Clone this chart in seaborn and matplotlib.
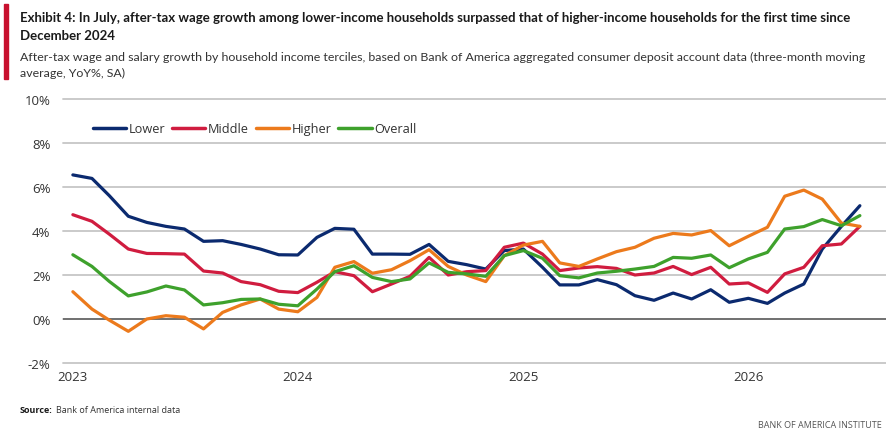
import matplotlib
matplotlib.use("Agg")
import matplotlib.pyplot as plt
import matplotlib.patches as mpatches
import matplotlib.ticker as mticker
import numpy as np
import pandas as pd
import seaborn as sns

# ---------------- data ----------------
months = pd.date_range("2023-01-01", "2026-07-01", freq="MS")

lower = [6.55, 6.39, 5.61, 4.67, 4.39, 4.21, 4.09, 3.53, 3.56, 3.39,
         3.18, 2.92, 2.91, 3.71, 4.12, 4.08, 2.95, 2.95, 2.94, 3.39,
         2.62, 2.47, 2.27, 3.11, 3.18, 2.35, 1.55, 1.55, 1.79, 1.56,
         1.06, 0.85, 1.18, 0.91, 1.33, 0.76, 0.94, 0.71, 1.18, 1.59,
         3.18, 4.21, 5.15]
middle = [4.74, 4.44, 3.86, 3.18, 2.98, 2.97, 2.95, 2.18, 2.09, 1.70,
          1.56, 1.26, 1.20, 1.67, 2.15, 1.97, 1.24, 1.59, 1.94, 2.80,
          2.00, 2.15, 2.20, 3.26, 3.45, 2.95, 2.20, 2.32, 2.38, 2.30,
          2.00, 2.09, 2.39, 2.02, 2.35, 1.59, 1.64, 1.21, 2.05, 2.35,
          3.33, 3.41, 4.21]
higher = [1.24, 0.45, -0.05, -0.56, 0.00, 0.15, 0.08, -0.45, 0.30, 0.64,
          0.91, 0.45, 0.33, 0.98, 2.35, 2.61, 2.08, 2.24, 2.65, 3.15,
          2.39, 2.00, 1.70, 2.88, 3.36, 3.53, 2.55, 2.39, 2.73, 3.06,
          3.26, 3.67, 3.89, 3.82, 4.02, 3.33, 3.76, 4.17, 5.58, 5.86,
          5.45, 4.36, 4.21]
overall = [2.92, 2.39, 1.71, 1.05, 1.23, 1.50, 1.32, 0.64, 0.74, 0.89,
           0.91, 0.67, 0.60, 1.36, 2.15, 2.42, 1.89, 1.70, 1.82, 2.55,
           2.12, 2.05, 1.94, 2.88, 3.11, 2.76, 1.97, 1.87, 2.09, 2.17,
           2.27, 2.39, 2.80, 2.76, 2.91, 2.33, 2.73, 3.03, 4.09, 4.20,
           4.52, 4.24, 4.70]

series_names = ["Lower", "Middle", "Higher", "Overall"]
series_values = [lower, middle, higher, overall]
colors = ["#0b2a6f", "#d01c3f", "#ec7a1c", "#3ea12c"]

y_ticks = [-2, 0, 2, 4, 6, 8, 10]
x_tick_labels = ["2023", "2024", "2025", "2026"]

title_lines = ["Exhibit 4: In July, after-tax wage growth among lower-income households surpassed that of higher-income households for the first time since",
               "December 2024"]
subtitle_lines = ["After-tax wage and salary growth by household income terciles, based on Bank of America aggregated consumer deposit account data (three-month moving",
                  "average, YoY%, SA)"]

# ---------------- build frame ----------------
df = pd.concat([pd.DataFrame({"date": months, "value": v, "series": n})
                for n, v in zip(series_names, series_values)], ignore_index=True)

sns.set_theme(style="white")
plt.rcParams["font.family"] = ["Open Sans", "DejaVu Sans"]

W, H = 887, 439
fig = plt.figure(figsize=(W / 100, H / 100), dpi=100)
ax = fig.add_axes([63 / W, 1 - 364 / H, (W - 63) / W, (364 - 100) / H])

sns.lineplot(data=df, x="date", y="value", hue="series", hue_order=series_names,
             palette=colors, linewidth=2.3, ax=ax, legend=True)

ax.set_ylim(-2, 10)
ax.set_yticks(y_ticks)
ax.yaxis.set_major_formatter(mticker.FuncFormatter(lambda v, p: f"{v:.0f}%"))
ax.set_xlim(pd.Timestamp("2022-12-16"), pd.Timestamp("2026-08-14"))
ax.set_xticks([pd.Timestamp(f"{y}-01-01") for y in x_tick_labels])
ax.set_xticklabels(x_tick_labels)

ax.grid(axis="y", color="#c6c6c6", linewidth=1.3, zorder=0)
for g in ax.get_ygridlines():
    g.set_clip_on(False)
ax.axhline(0, color="#6a6a6a", linewidth=1.3, zorder=1)
for s in ax.spines.values():
    s.set_visible(False)
ax.tick_params(axis="both", length=0, labelsize=9.5, colors="#333333")
ax.tick_params(axis="y", pad=9)
ax.tick_params(axis="x", pad=5)
ax.set_xlabel("")
ax.set_ylabel("")

handles, labels = ax.get_legend_handles_labels()
leg = ax.legend(handles, labels, ncol=4, frameon=False, loc="center left",
                bbox_to_anchor=(81 / W, 1 - 130 / H), bbox_transform=fig.transFigure,
                fontsize=9.2, handlelength=2.6, handletextpad=0.2, columnspacing=0.55,
                labelcolor="#333333")
for lh in leg.get_lines():
    lh.set_linewidth(2.5)

# ---------------- header / footer ----------------
fig.patches.append(mpatches.Rectangle((4 / W, 1 - 80 / H), 4 / W, 75 / H,
                                      transform=fig.transFigure, color="#c8102e"))

renderer = fig.canvas.get_renderer()


def fit_text(x, y, s, target_px, **kw):
    t = fig.text(x / W, 1 - y / H, s, va="baseline", ha="left",
                 family=["Lato", "Open Sans", "DejaVu Sans"], fontsize=10, **kw)
    w = t.get_window_extent(renderer).width
    t.set_fontsize(10 * target_px / w)
    return t


t1 = fit_text(20, 22, title_lines[0], 830, fontweight="bold", color="#1a1a1a")
fs_title = t1.get_fontsize()
fig.text(20 / W, 1 - 40 / H, title_lines[1], fontsize=fs_title, fontweight="bold",
         family=["Lato", "Open Sans", "DejaVu Sans"],
         color="#1a1a1a", va="baseline", ha="left")
s1 = fit_text(20, 61, subtitle_lines[0], 846, color="#333333")
fs_sub = s1.get_fontsize()
fig.text(20 / W, 1 - 77 / H, subtitle_lines[1], fontsize=fs_sub, color="#333333",
         family=["Lato", "Open Sans", "DejaVu Sans"], va="baseline", ha="left")

fig.text(20 / W, 1 - 413 / H, "Source:", fontsize=6.5, fontweight="bold",
         color="#1a1a1a", va="baseline", ha="left")
fig.text(56 / W, 1 - 413 / H, "Bank of America internal data", fontsize=6.5,
         color="#333333", va="baseline", ha="left")
fig.text(882 / W, 1 - 428 / H, "BANK OF AMERICA INSTITUTE", fontsize=6.5,
         color="#555555", va="baseline", ha="right")

fig.savefig("out.png", dpi=100)
